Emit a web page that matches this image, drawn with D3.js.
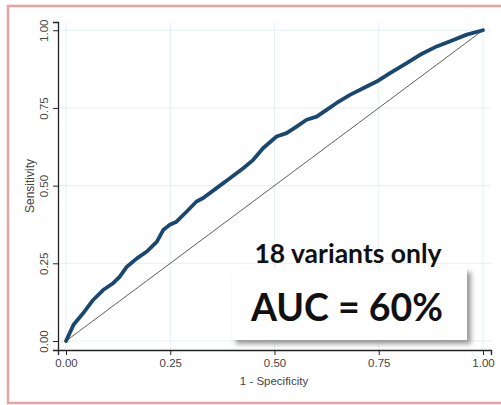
<!DOCTYPE html>
<html>
<head>
<meta charset="utf-8">
<script src="https://d3js.org/d3.v7.min.js"></script>
<style>
  body { margin: 0; background: #fff; }
  svg { display: block; }
</style>
</head>
<body>
<svg width="501" height="405"></svg>
<script>
  // ROC curve: 1 - specificity and sensitivity
  var fpr = [0, 0.018, 0.041, 0.065, 0.089, 0.113, 0.129, 0.146, 0.170, 0.194, 0.218, 0.233, 0.249, 0.265, 0.289, 0.313,
             0.329, 0.361, 0.393, 0.425, 0.449, 0.473, 0.505, 0.529, 0.553, 0.577, 0.601, 0.625, 0.649, 0.681,
             0.721, 0.745, 0.777, 0.817, 0.849, 0.889, 0.929, 0.961, 1];
  var tpr = [0, 0.052, 0.089, 0.132, 0.164, 0.186, 0.207, 0.239, 0.266, 0.288, 0.320, 0.357, 0.374, 0.384, 0.416, 0.449,
             0.460, 0.492, 0.524, 0.556, 0.583, 0.621, 0.658, 0.669, 0.690, 0.712, 0.722, 0.744, 0.766, 0.792,
             0.819, 0.835, 0.862, 0.894, 0.921, 0.948, 0.969, 0.986, 1];
  var refLine = [[0, 0], [1, 1]];
  var ticks = [0, 0.25, 0.5, 0.75, 1];
  var xTitle = "1 - Specificity";
  var yTitle = "Sensitivity";
  var note = "18 variants only";
  var auc = "AUC = 60%";

  var svg = d3.select("svg");
  var font = "'Liberation Sans', Arial, sans-serif";

  // pink frame round the whole graph
  svg.append("rect")
    .attr("x", 8).attr("y", 6)
    .attr("width", 500).attr("height", 397)
    .style("fill", "#fff")
    .style("stroke", "#e8a2a2")
    .style("stroke-width", 2.5);

  var x = d3.scaleLinear().domain([-0.0192, 1.0192]).range([58, 491]);
  var y = d3.scaleLinear().domain([-0.029, 1.0266]).range([350, 22]);

  // grid
  svg.append("g").selectAll("line")
    .data(ticks)
    .enter()
    .append("line")
    .attr("x1", function (d) { return x(d); })
    .attr("x2", function (d) { return x(d); })
    .attr("y1", 22).attr("y2", 350)
    .style("stroke", "#e6eff1")
    .style("stroke-width", 1);

  svg.append("g").selectAll("line")
    .data(ticks)
    .enter()
    .append("line")
    .attr("y1", function (d) { return y(d); })
    .attr("y2", function (d) { return y(d); })
    .attr("x1", 58).attr("x2", 491)
    .style("stroke", "#e6eff1")
    .style("stroke-width", 1);

  // axes
  var xAxis = svg.append("g")
    .attr("transform", "translate(0, 350)")
    .call(d3.axisBottom(x).tickValues(ticks).tickFormat(d3.format(".2f")).tickSizeOuter(0).tickSize(5).tickPadding(4));
  var yAxis = svg.append("g")
    .attr("transform", "translate(58, 0)")
    .call(d3.axisLeft(y).tickValues(ticks).tickFormat(d3.format(".2f")).tickSizeOuter(0).tickSize(5).tickPadding(4));

  [xAxis, yAxis].forEach(function (a) {
    a.select(".domain").style("stroke", "#222").style("stroke-width", 1.3);
    a.selectAll(".tick line").style("stroke", "#222");
    a.selectAll("text")
      .style("font-family", font)
      .style("font-size", "11.5px")
      .style("fill", "#444");
  });

  yAxis.selectAll(".tick text")
    .attr("transform", "rotate(-90)")
    .attr("x", 0)
    .attr("y", -10)
    .attr("dy", 0)
    .attr("text-anchor", "middle");

  svg.append("text")
    .attr("x", 274).attr("y", 385)
    .attr("text-anchor", "middle")
    .style("font-family", font)
    .style("font-size", "11.5px")
    .style("fill", "#444")
    .text(xTitle);

  svg.append("text")
    .attr("transform", "translate(34, 186)rotate(-90)")
    .attr("text-anchor", "middle")
    .style("font-family", font)
    .style("font-size", "12px")
    .style("fill", "#444")
    .text(yTitle);

  // reference diagonal
  var line = d3.line().x(function (d) { return x(d[0]); }).y(function (d) { return y(d[1]); });

  svg.append("path")
    .datum(refLine)
    .attr("d", line)
    .style("fill", "none")
    .style("stroke", "#333")
    .style("stroke-width", 0.8);

  // ROC curve
  var roc = fpr.map(function (f, i) { return [f, tpr[i]]; });
  svg.append("path")
    .datum(roc)
    .attr("d", line)
    .style("fill", "none")
    .style("stroke", "#1a476f")
    .style("stroke-width", 3.8)
    .style("stroke-linejoin", "round")
    .style("stroke-linecap", "round");

  // annotation
  var defs = svg.append("defs");
  var f = defs.append("filter").attr("id", "shadow")
    .attr("x", "-10%").attr("y", "-10%").attr("width", "130%").attr("height", "140%");
  f.append("feDropShadow")
    .attr("dx", 4).attr("dy", 4)
    .attr("stdDeviation", 2.5)
    .attr("flood-color", "#555")
    .attr("flood-opacity", 0.6);

  svg.append("rect")
    .attr("x", 232).attr("y", 268)
    .attr("width", 235).attr("height", 72)
    .style("fill", "#fff")
    .attr("filter", "url(#shadow)");

  svg.append("text")
    .attr("x", 348).attr("y", 263)
    .attr("text-anchor", "middle")
    .style("font-family", "Lato, 'Open Sans', sans-serif")
    .style("font-weight", "bold")
    .style("font-size", "26.5px")
    .style("fill", "#111")
    .text(note);

  svg.append("text")
    .attr("x", 347).attr("y", 321)
    .attr("text-anchor", "middle")
    .style("font-family", "Lato, 'Open Sans', sans-serif")
    .style("font-weight", "bold")
    .style("font-size", "37.5px")
    .style("fill", "#111")
    .text(auc);
</script>
</body>
</html>
